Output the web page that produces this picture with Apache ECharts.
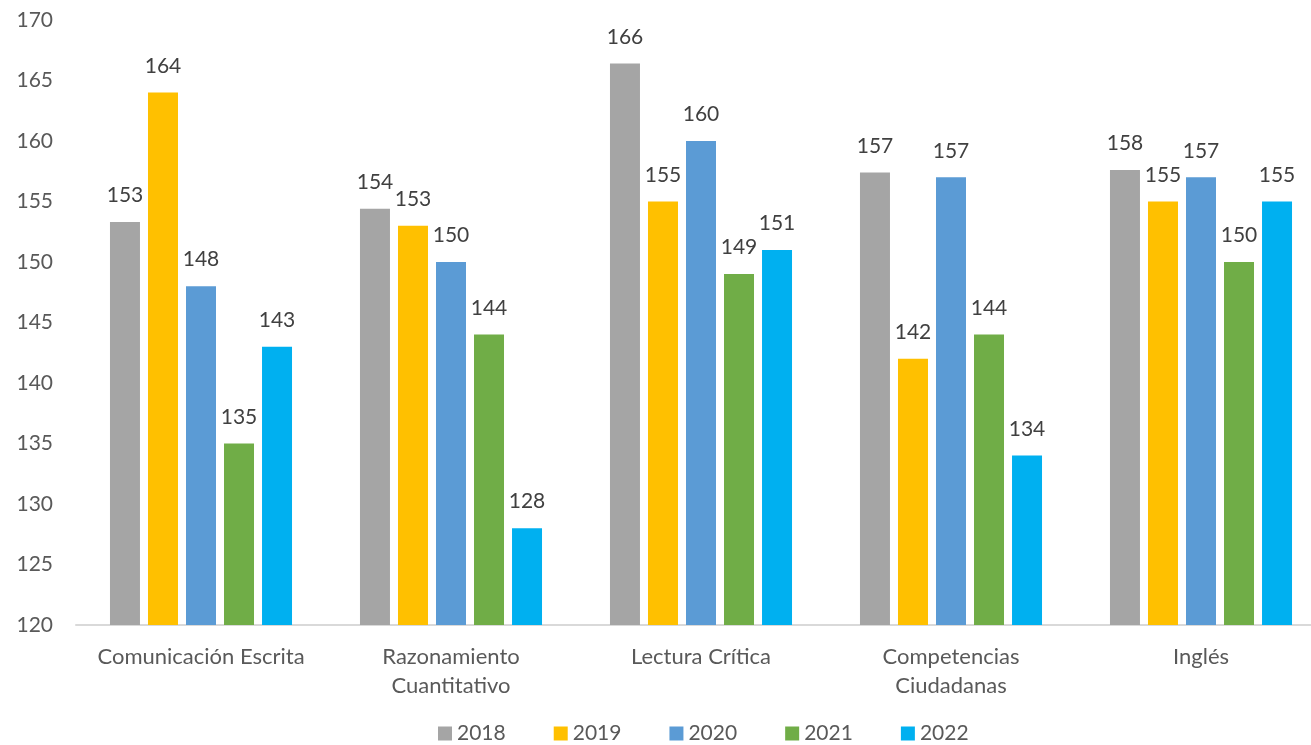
<!DOCTYPE html>
<html>
<head>
<meta charset="utf-8">
<script src="https://cdn.jsdelivr.net/npm/echarts@6/dist/echarts.min.js"></script>
<style>html,body{margin:0;padding:0;background:#fff;}#c{width:1311px;height:745px;}</style>
</head>
<body>
<div id="c"></div>
<script>
const categories = ['Comunicación Escrita', 'Razonamiento\nCuantitativo', 'Lectura Crítica', 'Competencias\nCiudadanas', 'Inglés'];
const years = ['2018', '2019', '2020', '2021', '2022'];
const v2018 = [153.3, 154.4, 166.4, 157.4, 157.6];
const v2019 = [164, 153, 155, 142, 155];
const v2020 = [148, 150, 160, 157, 157];
const v2021 = [135, 144, 149, 144, 150];
const v2022 = [143, 128, 151, 134, 155];
const colors = ['#A5A5A5', '#FFC000', '#5B9BD5', '#70AD47', '#00B0F0'];
const seriesValues = [v2018, v2019, v2020, v2021, v2022];

const FONT = 'Lato';
const chart = echarts.init(document.getElementById('c'));
chart.setOption({
  backgroundColor: '#ffffff',
  textStyle: { fontFamily: FONT },
  legend: {
    top: 718,
    left: 433,
    itemWidth: 14, itemHeight: 14, itemGap: 48,
    icon: 'rect',
    textStyle: { fontSize: 21, color: '#595959', fontFamily: FONT },
    data: years
  },
  grid: { left: 76, top: 20, width: 1250, bottom: 120, outerBoundsMode: 'none', containLabel: false },
  xAxis: {
    type: 'category',
    data: categories,
    axisLine: { lineStyle: { color: '#D9D9D9', width: 2 } },
    axisTick: { show: false },
    axisLabel: { interval: 0, fontSize: 22, color: '#595959', margin: 17, lineHeight: 29, fontFamily: FONT }
  },
  yAxis: {
    type: 'value',
    min: 120, max: 170, interval: 5,
    splitLine: { show: false },
    axisLine: { show: false },
    axisTick: { show: false },
    axisLabel: { fontSize: 21, color: '#595959', margin: 23, fontFamily: FONT }
  },
  series: years.map((y, i) => ({
    name: y,
    type: 'bar',
    data: seriesValues[i],
    barWidth: 30,
    barGap: '26.7%',
    itemStyle: { color: colors[i] },
    label: {
      show: true, position: 'top', distance: 16,
      fontSize: 21, color: '#404040', fontFamily: FONT,
      formatter: p => Math.round(p.value)
    }
  }))
});
</script>
</body>
</html>
